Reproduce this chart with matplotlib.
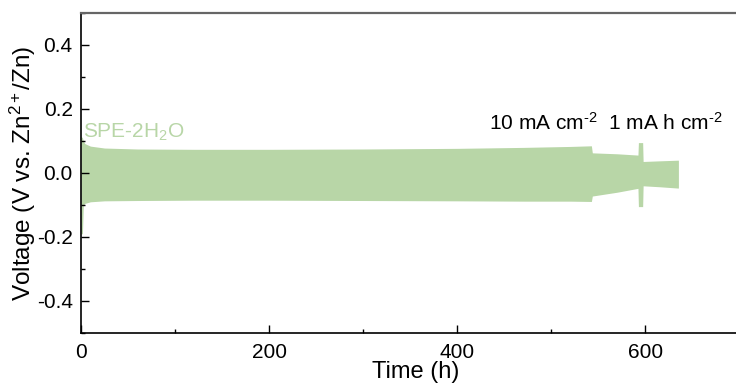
import matplotlib
matplotlib.use("Agg")
import matplotlib.pyplot as plt
from matplotlib.ticker import MultipleLocator

plt.rcParams['font.family'] = ['Liberation Sans', 'DejaVu Sans']
plt.rcParams['mathtext.fontset'] = 'custom'
plt.rcParams['mathtext.rm'] = 'Liberation Sans'
plt.rcParams['mathtext.it'] = 'Liberation Sans:italic'

# envelope of the cycling curve (h, V)
time_h = [0, 1.5, 2.5, 4, 10, 25, 60, 120, 200, 300, 400, 470, 520, 542.5,
          543.5, 570, 592, 592.5, 597, 597.5, 615, 634, 635]
v_upper = [0.115, 0.11, 0.1, 0.092, 0.084, 0.078, 0.075, 0.074, 0.074, 0.075, 0.077, 0.08, 0.083, 0.085,
           0.063, 0.06, 0.056, 0.095, 0.095, 0.036, 0.038, 0.04, 0.04]
v_lower = [-0.19, -0.19, -0.1, -0.095, -0.09, -0.087, -0.086, -0.085, -0.085, -0.086, -0.087, -0.088, -0.088, -0.089,
           -0.072, -0.06, -0.048, -0.105, -0.105, -0.04, -0.043, -0.047, -0.047]

green = '#b8d6a7'

fig = plt.figure(figsize=(7.36, 3.87), dpi=100)
ax = fig.add_axes([81 / 736, 54 / 387, 1 - 81 / 736 + 0.001, 320 / 387])

ax.fill_between(time_h, v_lower, v_upper, color=green, linewidth=0)

ax.set_xlim(0, 697)
ax.set_ylim(-0.5, 0.5)
ax.xaxis.set_major_locator(MultipleLocator(200))
ax.xaxis.set_minor_locator(MultipleLocator(100))
ax.yaxis.set_major_locator(MultipleLocator(0.2))
ax.yaxis.set_minor_locator(MultipleLocator(0.1))
ax.tick_params(which='both', direction='in', labelsize=15, width=1)
ax.tick_params(which='major', length=6)
ax.tick_params(which='minor', length=3)
ax.tick_params(axis='x', pad=7)
ax.tick_params(axis='y', pad=6)
ax.set_yticks([-0.4, -0.2, 0.0, 0.2, 0.4])
ax.set_yticklabels(['-0.4', '-0.2', '0.0', '0.2', '0.4'])

ax.spines['right'].set_visible(False)
ax.spines['top'].set_color('#666666')
ax.spines['top'].set_linewidth(1.6)
ax.spines['left'].set_linewidth(1.2)
ax.spines['bottom'].set_linewidth(1.2)

ax.set_xlabel('Time (h)', fontsize=17)
ax.xaxis.set_label_coords(0.51, -0.086)
ax.set_ylabel('Voltage (V vs. Zn$^{2+}$/Zn)', fontsize=17.5)
ax.yaxis.set_label_coords(-0.066, 0.5)

ax.text(2, 0.128, 'SPE-2H$_2$O', color=green, fontsize=15, va='center', ha='left')
ax.text(434, 0.158, '10 mA cm$^{\\text{-2}}$  1 mA h cm$^{\\text{-2}}$', color='black', fontsize=15,
        va='center', ha='left')

fig.savefig('out.png', dpi=100)
